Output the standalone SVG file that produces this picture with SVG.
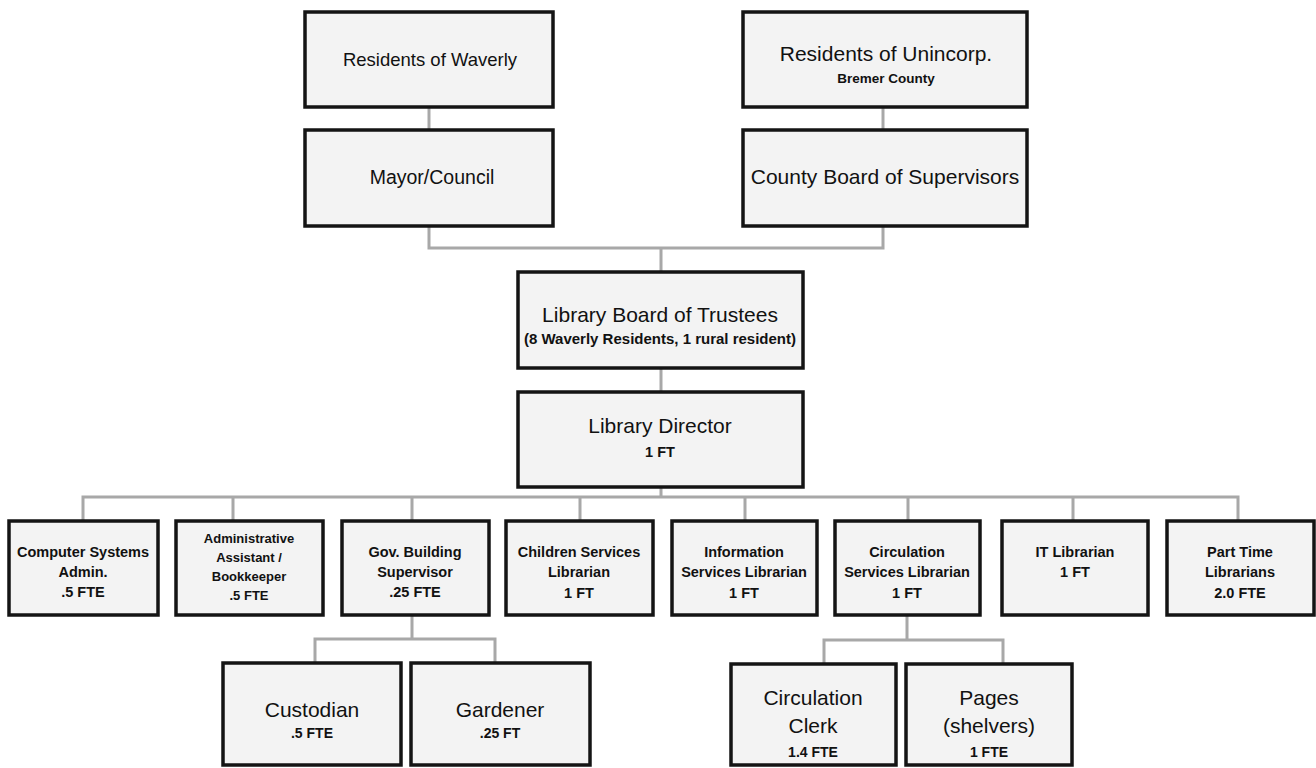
<svg xmlns="http://www.w3.org/2000/svg" width="1316" height="768" viewBox="0 0 1316 768">
<style>
.bg{fill:#ffffff}
.box{fill:#f3f3f3;stroke:#141414;stroke-width:3.5}
.con{fill:none;stroke:#a8a8a8;stroke-width:3;stroke-linejoin:miter}
text{font-family:"Liberation Sans",Arial,sans-serif;fill:#111;text-anchor:middle}
.t18{font-size:18.5px}
.t19{font-size:19.5px}
.t20{font-size:21px}
.t21{font-size:21px}
.s11{font-size:13.5px;font-weight:bold}
.s15{font-size:15px;font-weight:bold}
.b14{font-size:14.5px;font-weight:bold}
.b13{font-size:14px;font-weight:bold}
.b12{font-size:13px;font-weight:bold}
</style>
<rect class="bg" x="0" y="0" width="1316" height="768"/>
<g id="connectors">
<path class="con" d="M429,107 V130"/>
<path class="con" d="M883,107 V130"/>
<path class="con" d="M429,226 V248 H883 V226 M661,248 V272"/>
<path class="con" d="M661,368 V392"/>
<path class="con" d="M661,487 V497 M83,521 V497 H1238 V521 M233,497 V521 M412,497 V521 M580,497 V521 M745,497 V521 M908,497 V521 M1073,497 V521"/>
<path class="con" d="M412,615 V639 M315,663 V639 H495 V663"/>
<path class="con" d="M907,615 V640 M824,664 V640 H1003 V664"/>
</g>
<g id="residents-waverly"><rect class="box" x="305" y="12" width="248" height="95"/><text class="t18" x="430" y="66">Residents of Waverly</text></g>
<g id="residents-unincorp"><rect class="box" x="743" y="12" width="284" height="95"/><text class="t20" x="886" y="61">Residents of Unincorp.</text><text class="s11" x="886" y="83">Bremer County</text></g>
<g id="mayor-council"><rect class="box" x="305" y="130" width="248" height="96"/><text class="t19" x="432" y="184">Mayor/Council</text></g>
<g id="county-board"><rect class="box" x="743" y="130" width="284" height="96"/><text class="t20" x="885" y="184">County Board of Supervisors</text></g>
<g id="trustees"><rect class="box" x="518" y="272" width="285" height="96"/><text class="t21" x="660" y="322">Library Board of Trustees</text><text class="s15" x="660" y="344">(8 Waverly Residents, 1 rural resident)</text></g>
<g id="director"><rect class="box" x="518" y="392" width="285" height="95"/><text class="t21" x="660" y="433">Library Director</text><text class="b14" x="660" y="457">1 FT</text></g>
<g id="computer-systems"><rect class="box" x="9" y="521" width="149" height="94"/><text class="b14" x="83" y="557">Computer Systems</text><text class="b14" x="83" y="577">Admin.</text><text class="b14" x="83" y="597">.5 FTE</text></g>
<g id="admin-assistant"><rect class="box" x="176" y="521" width="147" height="94"/><text class="b12" x="249" y="543">Administrative</text><text class="b12" x="249" y="562">Assistant /</text><text class="b12" x="249" y="581">Bookkeeper</text><text class="b12" x="249" y="600">.5 FTE</text></g>
<g id="gov-building"><rect class="box" x="342" y="521" width="147" height="94"/><text class="b14" x="415" y="557">Gov. Building</text><text class="b14" x="415" y="577">Supervisor</text><text class="b14" x="415" y="597">.25 FTE</text></g>
<g id="children-services"><rect class="box" x="506" y="521" width="147" height="94"/><text class="b14" x="579" y="557">Children Services</text><text class="b14" x="579" y="577">Librarian</text><text class="b14" x="579" y="598">1 FT</text></g>
<g id="information-services"><rect class="box" x="672" y="521" width="145" height="94"/><text class="b14" x="744" y="557">Information</text><text class="b14" x="744" y="577">Services Librarian</text><text class="b14" x="744" y="598">1 FT</text></g>
<g id="circulation-services"><rect class="box" x="835" y="521" width="145" height="94"/><text class="b14" x="907" y="557">Circulation</text><text class="b14" x="907" y="577">Services Librarian</text><text class="b14" x="907" y="598">1 FT</text></g>
<g id="it-librarian"><rect class="box" x="1002" y="521" width="146" height="94"/><text class="b14" x="1075" y="557">IT Librarian</text><text class="b14" x="1075" y="577">1 FT</text></g>
<g id="part-time"><rect class="box" x="1167" y="521" width="147" height="94"/><text class="b14" x="1240" y="557">Part Time</text><text class="b14" x="1240" y="577">Librarians</text><text class="b14" x="1240" y="598">2.0 FTE</text></g>
<g id="custodian"><rect class="box" x="223" y="663" width="178" height="102"/><text class="t21" x="312" y="717">Custodian</text><text class="b13" x="312" y="738">.5 FTE</text></g>
<g id="gardener"><rect class="box" x="411" y="663" width="179" height="102"/><text class="t21" x="500" y="717">Gardener</text><text class="b13" x="500" y="738">.25 FT</text></g>
<g id="circulation-clerk"><rect class="box" x="731" y="664" width="165" height="101"/><text class="t21" x="813" y="705">Circulation</text><text class="t21" x="813" y="733">Clerk</text><text class="b13" x="813" y="757">1.4 FTE</text></g>
<g id="pages"><rect class="box" x="906" y="664" width="166" height="101"/><text class="t21" x="989" y="705">Pages</text><text class="t21" x="989" y="733">(shelvers)</text><text class="b13" x="989" y="757">1 FTE</text></g>
</svg>
